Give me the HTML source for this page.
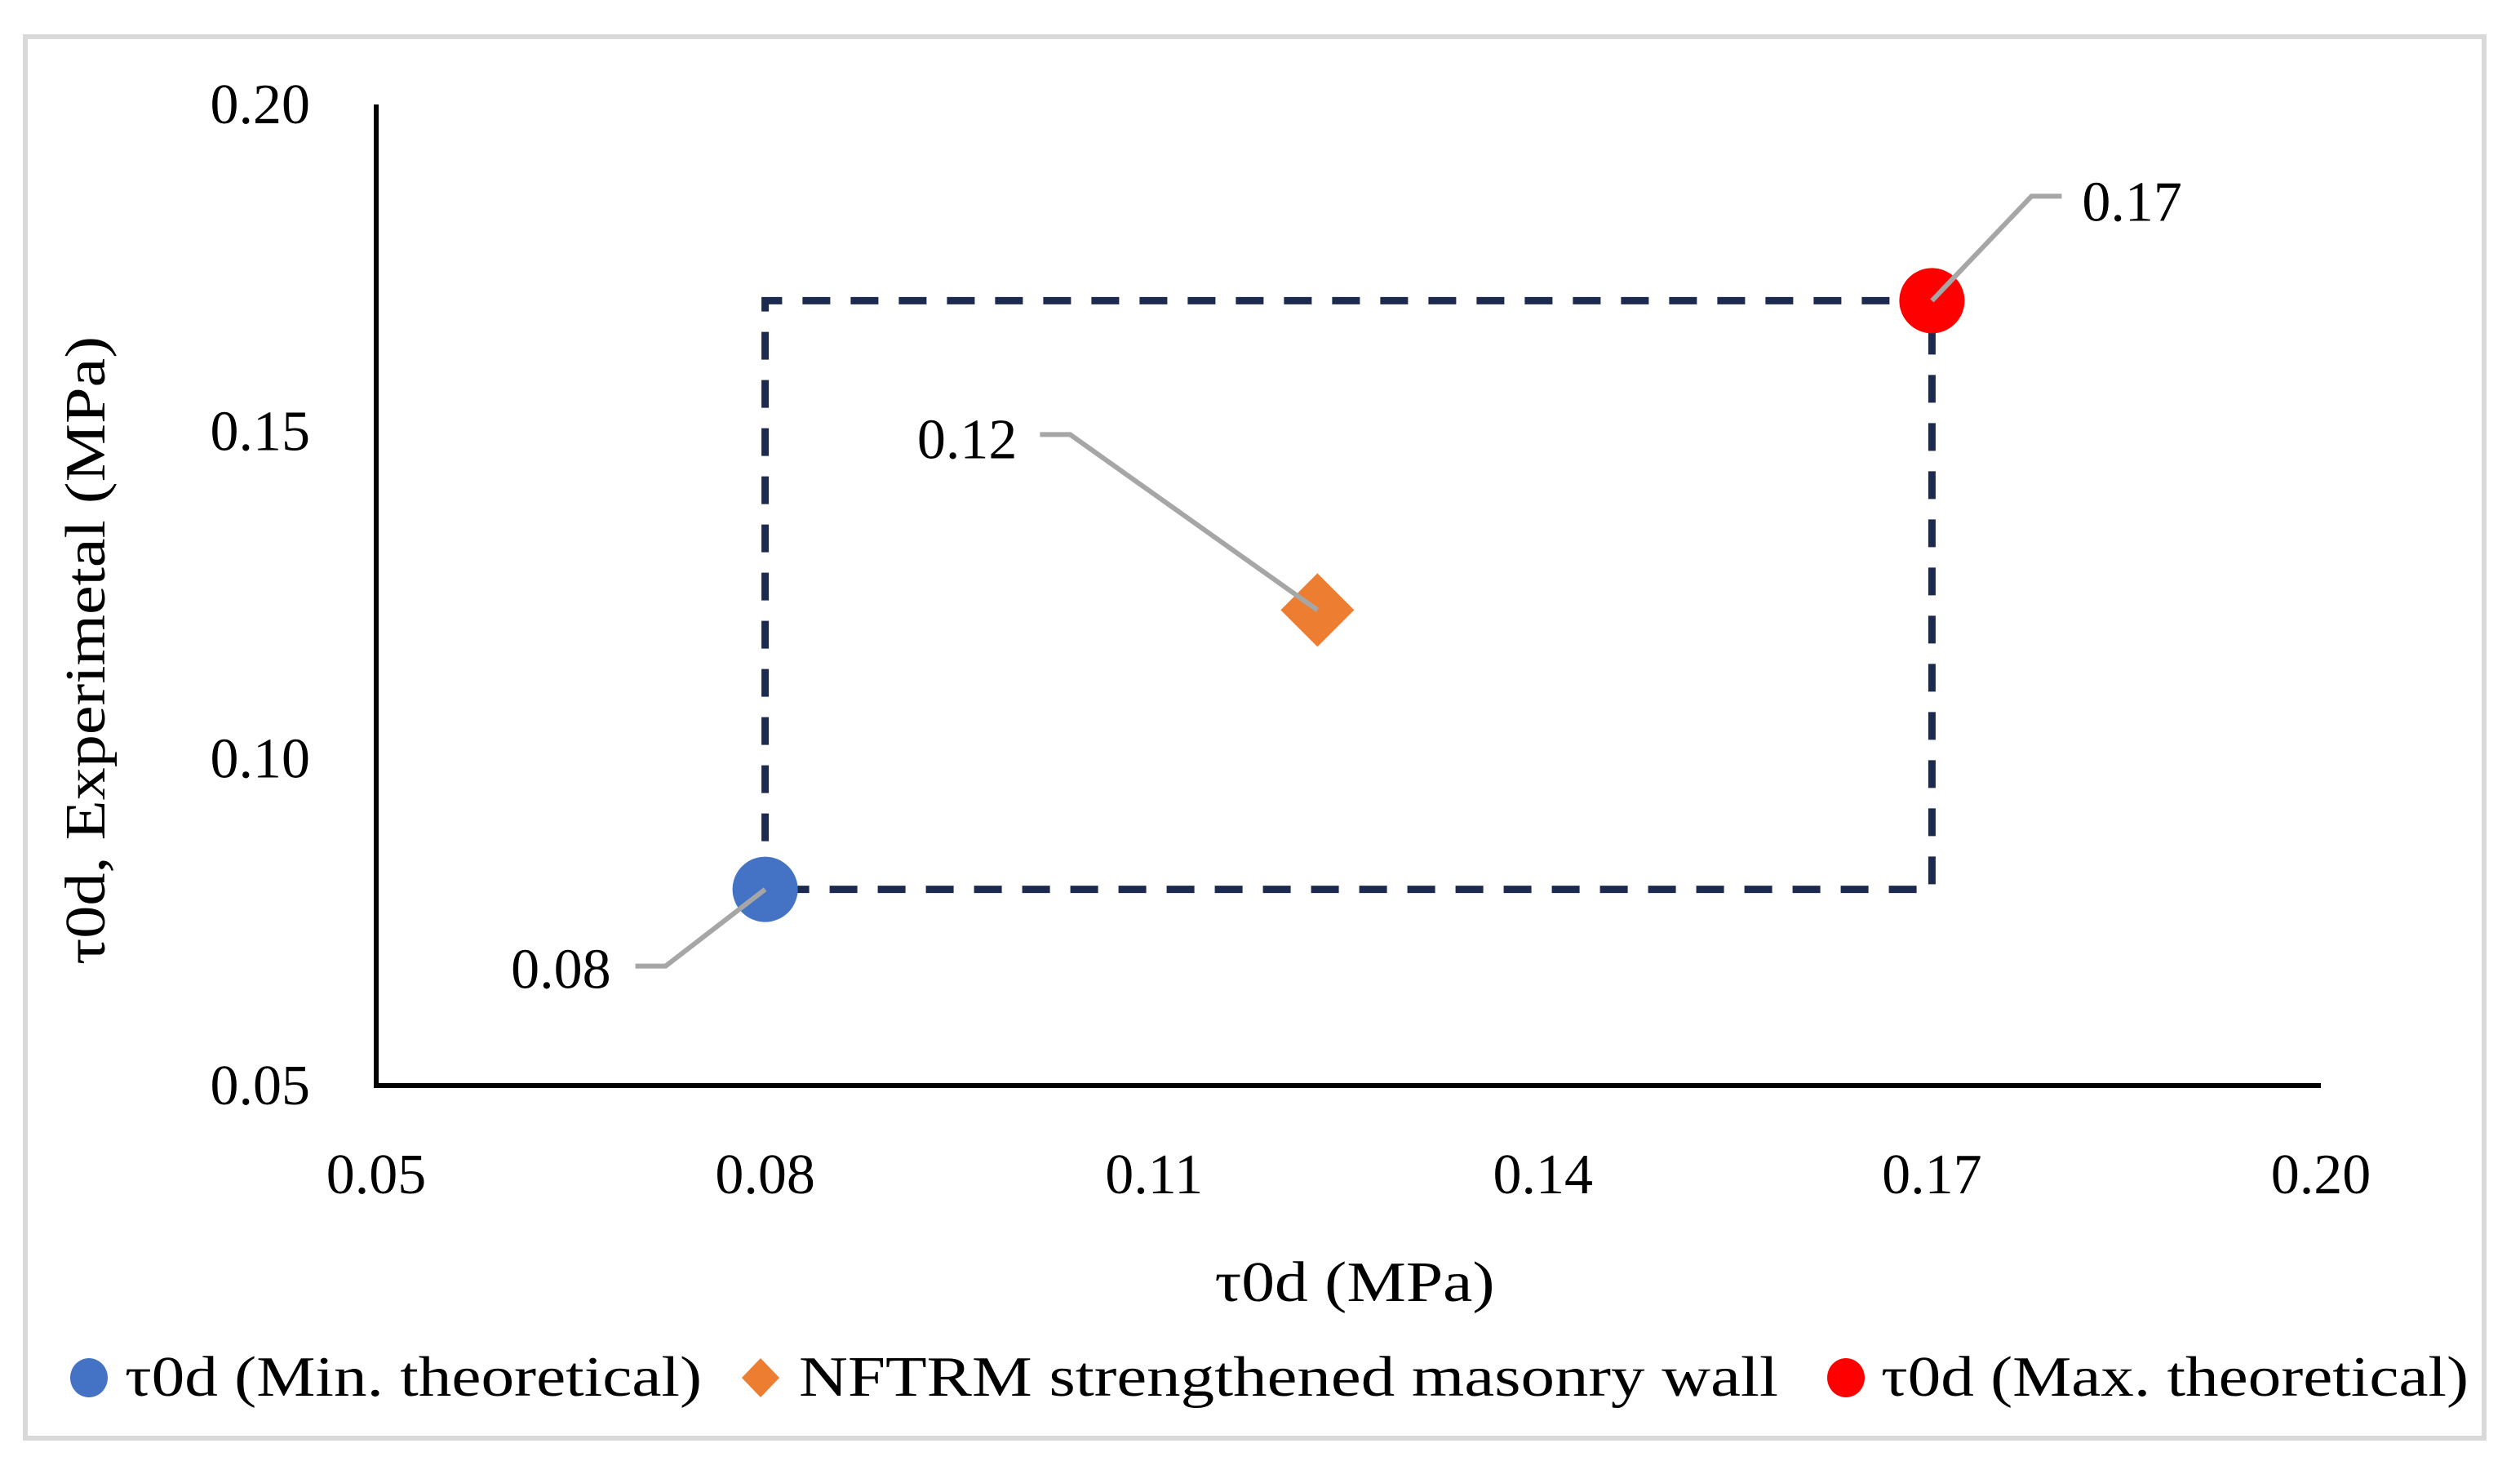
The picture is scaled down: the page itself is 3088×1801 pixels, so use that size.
<!DOCTYPE html>
<html><head><meta charset="utf-8"><style>
html,body{margin:0;padding:0;background:#fff;}
svg{display:block;}
text{font-family:"Liberation Serif",serif;fill:#000;}
</style></head><body>
<svg id="chart" width="3088" height="1801" viewBox="0 0 3088 1801" xmlns="http://www.w3.org/2000/svg">
<rect x="31" y="45" width="3013" height="1717" fill="#fff" stroke="#d9d9d9" stroke-width="6"/>
<g id="plot"></g>
<text transform="translate(128,797) rotate(-90)" text-anchor="middle" font-size="70" textLength="770" lengthAdjust="spacingAndGlyphs">τ0d, Experimetal (MPa)</text>
<text x="1660" y="1594" text-anchor="middle" font-size="70" textLength="343" lengthAdjust="spacingAndGlyphs">τ0d (MPa)</text>
<g>
<g>
<ellipse cx="109" cy="1688" rx="23" ry="24" fill="#4472c4"/>
<text x="153" y="1710" font-size="70" textLength="707" lengthAdjust="spacingAndGlyphs">τ0d (Min. theoretical)</text></g>
<g>
<polygon points="932,1664 955,1688 932,1712 909,1688" fill="#ed7d31"/>
<text x="979" y="1710" font-size="70" textLength="1200" lengthAdjust="spacingAndGlyphs">NFTRM strengthened masonry wall</text></g>
<g>
<ellipse cx="2262" cy="1688" rx="23" ry="24" fill="#ff0000"/>
<text x="2305" y="1710" font-size="70" textLength="720" lengthAdjust="spacingAndGlyphs">τ0d (Max. theoretical)</text></g>
</g>
</svg>
<script>
const xTicks = [0.05, 0.08, 0.11, 0.14, 0.17, 0.20];
const yTicks = [0.05, 0.10, 0.15, 0.20];
const seriesNames = ["min", "nftrm", "max"];
const xValues = [0.08, 0.1226, 0.17];
const yValues = [0.08, 0.1227, 0.17];
const labels = ["0.08", "0.12", "0.17"];
const boxX = [0.08, 0.17];
const boxY = [0.08, 0.17];

const NS = "http://www.w3.org/2000/svg";
const g = document.getElementById("plot");
const X = v => 461 + (v - 0.05) / 0.15 * (2844 - 461);
const Y = v => 1330 - (v - 0.05) / 0.15 * (1330 - 128);
function mk(tag, attrs, parent) {
  const e = document.createElementNS(NS, tag);
  for (const k in attrs) e.setAttribute(k, attrs[k]);
  (parent || g).appendChild(e);
  return e;
}
// axes
let ax = mk("line", {x1: X(0.05), y1: Y(0.05), x2: X(0.20), y2: Y(0.05), stroke: "#000", "stroke-width": 6});


let ay = mk("line", {x1: X(0.05), y1: Y(0.05) + 3, x2: X(0.05), y2: Y(0.20), stroke: "#000", "stroke-width": 6});


xTicks.forEach(t => {
  const e = mk("text", {x: X(t), y: 1462, "text-anchor": "middle", "font-size": 70});
  e.textContent = t.toFixed(2);
  
  
});
yTicks.forEach(t => {
  const e = mk("text", {x: 380, y: Y(t) + 23, "text-anchor": "end", "font-size": 70});
  e.textContent = t.toFixed(2);
  
  
});
// dashed box
const box = mk("path", {d: `M${X(boxX[0])},${Y(boxY[0])} V${Y(boxY[1])} H${X(boxX[1])} V${Y(boxY[0])} Z`, fill: "none", stroke: "#1b2a4e", "stroke-width": 9, "stroke-dasharray": "34 25"});


// points
const colors = {min: "#4472c4", nftrm: "#ed7d31", max: "#ff0000"};
const labelOff = [
  {dx1: -122, dy1: 94, dx2: -159, anchor: "end", tx: -189, ty: 121},
  {dx1: -303, dy1: -215, dx2: -340, anchor: "end", tx: -368, ty: -186},
  {dx1: 122, dy1: -128, dx2: 159, anchor: "start", tx: 184, ty: -98}
];
seriesNames.forEach((s, i) => {
  const cx = X(xValues[i]), cy = Y(yValues[i]);
  let m;
  if (s === "nftrm") {
    m = mk("polygon", {points: `${cx},${cy-45} ${cx+45},${cy} ${cx},${cy+45} ${cx-45},${cy}`, fill: colors[s]});
  } else {
    m = mk("circle", {cx: cx, cy: cy, r: 40, fill: colors[s]});
  }
  
  
  const o = labelOff[i];
  const l = mk("polyline", {points: `${cx},${cy} ${cx+o.dx1},${cy+o.dy1} ${cx+o.dx2},${cy+o.dy1}`, fill: "none", stroke: "#a6a6a6", "stroke-width": 6});
  
  
  const t = mk("text", {x: cx + o.tx, y: cy + o.ty, "text-anchor": o.anchor, "font-size": 70});
  t.textContent = labels[i];
  
  
});
</script>
</body></html>
